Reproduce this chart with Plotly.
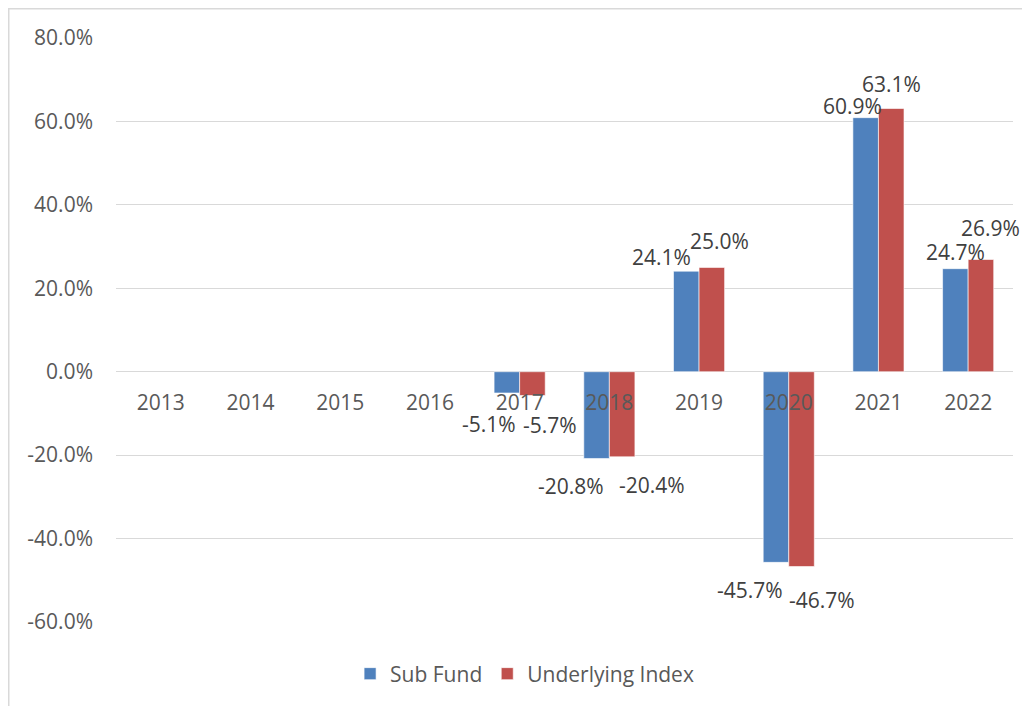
import plotly.graph_objects as go

years = ["2013", "2014", "2015", "2016", "2017", "2018", "2019", "2020", "2021", "2022"]
sub_fund = [None, None, None, None, -5.1, -20.8, 24.1, -45.7, 60.9, 24.7]
underlying_index = [None, None, None, None, -5.7, -20.4, 25.0, -46.7, 63.1, 26.9]
y_ticks = [-60, -40, -20, 0, 20, 40, 60, 80]

# label nudges in pixels (from bar centre / bar end), imitating the original label placement
sub_dx = [0, 0, 0, 0, -18, -26, -25, -26, -13, 0]
sub_dy = [0, 0, 0, 0, 31, 28, -14, 28, -12, -17]
idx_dx = [0, 0, 0, 0, 18, 30, 8, 20, 0, 10]
idx_dy = [0, 0, 0, 0, 30, 28, -26, 33, -25, -32]

BLUE = "#4F81BD"
RED = "#C0504D"
FONT = "Open Sans"

fig = go.Figure()
fig.add_trace(go.Bar(x=years, y=sub_fund, name="Sub Fund",
                     marker=dict(color=BLUE, line=dict(color="#ffffff", width=0.6))))
fig.add_trace(go.Bar(x=years, y=underlying_index, name="Underlying Index",
                     marker=dict(color=RED, line=dict(color="#ffffff", width=0.6))))

ymin, ymax = -60, 80
W, H = 1030, 706
plot_l, plot_r, plot_t, plot_b = 108, 25, 30, 92
pw = W - plot_l - plot_r
ph = H - plot_t - plot_b
cat_px = pw / len(years)
bargap = 0.43
bar_px = cat_px * (1 - bargap) / 2

annotations = []
for series, dxs, dys, side in ((sub_fund, sub_dx, sub_dy, -1), (underlying_index, idx_dx, idx_dy, 1)):
    for i, v in enumerate(series):
        if v is None:
            continue
        annotations.append(dict(
            x=i, y=v, xref="x", yref="y",
            text=f"{v:.1f}%", showarrow=False,
            xanchor="center", yanchor="middle",
            xshift=side * bar_px / 2 + dxs[i],
            yshift=-dys[i],
            font=dict(family=FONT, size=21, color="#404040"),
        ))

fig.update_layout(
    width=W, height=H,
    margin=dict(l=plot_l, r=plot_r, t=plot_t, b=plot_b),
    paper_bgcolor="white", plot_bgcolor="white",
    barmode="group", bargap=bargap, bargroupgap=0,
    font=dict(family=FONT, size=21, color="#595959"),
    showlegend=True,
    legend=dict(orientation="h", x=0.4555, xanchor="center", y=-0.089, yanchor="middle",
                font=dict(family=FONT, size=21, color="#595959"), itemwidth=30, tracegroupgap=0),
    xaxis=dict(type="category", anchor="free", position=(0 - ymin) / (ymax - ymin),
               showgrid=False, showline=False, ticks="", ticklabelstandoff=16,
               tickfont=dict(family=FONT, size=21, color="#595959"), range=[-0.5, 9.5]),
    yaxis=dict(range=[ymin, ymax], tickvals=y_ticks, ticktext=[f"{t:.1f}%" for t in y_ticks],
               showgrid=True, gridcolor="#d9d9d9", gridwidth=1.3, zeroline=True, zerolinecolor="#d9d9d9",
               zerolinewidth=1.3, showline=False, ticks="", ticklabelstandoff=22,
               tickfont=dict(family=FONT, size=21, color="#595959")),
    annotations=annotations,
    shapes=[dict(type="rect", xref="paper", yref="paper",
                 x0=(0.75 - plot_l) / pw, x1=(W + 10 - plot_l) / pw,
                 y0=(plot_t + ph - (H + 10)) / ph, y1=(plot_t + ph - 0.75) / ph,
                 line=dict(color="#d9d9d9", width=1.5), fillcolor="rgba(0,0,0,0)", layer="below")],
)

fig.write_html("out.html")
